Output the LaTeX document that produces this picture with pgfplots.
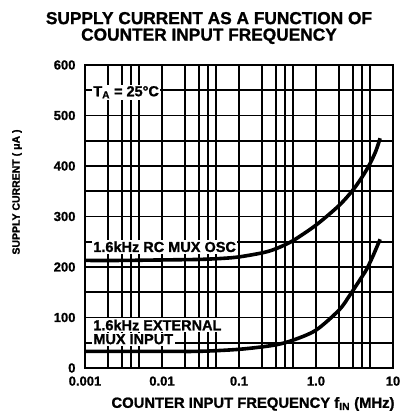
\documentclass[border=0pt]{standalone}
\usepackage{pgfplots}
\pgfplotsset{compat=1.18}
\usepackage{fontspec}
\setmainfont{Liberation Sans}[BoldFeatures={FakeBold=1.2}]
\begin{document}
\begin{tikzpicture}
\path[use as bounding box] (-85pt,-48pt) rectangle (316pt,368pt);
\begin{axis}[
  scale only axis, width=308pt, height=303pt,
  at={(0pt,0pt)}, anchor=south west,
  xmode=log, xmin=0.001, xmax=10, ymin=0, ymax=600,
  xtick={0.001,0.01,0.1,1,10}, xticklabels={0.001,0.01,0.1,1.0,10},
  minor xtick={0.002,0.003,0.004,0.005,0.02,0.03,0.04,0.05,0.2,0.3,0.4,0.5,2,3,4,5},
  ytick={0,100,...,600}, minor ytick={50,150,...,550},
  grid=both,
  major grid style={black, line width=1.8pt},
  minor grid style={black, line width=1.8pt},
  axis line style={line width=2.4pt},
  major tick length=0pt, minor tick length=0pt,
  /pgf/number format/assume math mode=true,
  ticklabel style={font=\bfseries\fontsize{13}{14}\selectfont},
  xticklabel style={anchor=north, yshift=-5pt},
  yticklabel style={anchor=east, xshift=-6pt},
  log ticks with fixed point,
  clip=true,
]
\addplot[black, line width=3.6pt, smooth, tension=0.5] coordinates {
 (0.001,213) (0.003,213) (0.01,214) (0.03,215) (0.06,217) (0.1,220) (0.2,228) (0.3,236) (0.5,252) (1,283) (2,322) (3,352) (4,379) (5,404) (6,430) (6.8,455)};
\addplot[black, line width=3.6pt, smooth, tension=0.5] coordinates {
 (0.001,33) (0.01,33) (0.03,33) (0.1,37) (0.28,45) (0.5,55) (1,75) (2,115) (2.77,145) (4,182) (4.6,197) (5.5,222) (6.8,255)};
\node[fill=white, inner sep=1.5pt, anchor=west, font=\bfseries\fontsize{14.5}{15}\selectfont] at (axis cs:0.00122,546) {T\textsubscript{A} = 25°C};
\node[fill=white, inner sep=1.5pt, anchor=west, font=\bfseries\fontsize{14.5}{15}\selectfont] at (axis cs:0.00122,240) {1.6kHz RC MUX OSC};
\node[fill=white, inner sep=1.5pt, anchor=west, font=\bfseries\fontsize{14.5}{15}\selectfont] at (axis cs:0.00122,85) {1.6kHz EXTERNAL};
\node[fill=white, inner sep=1.5pt, anchor=west, font=\bfseries\fontsize{14.5}{15}\selectfont] at (axis cs:0.00122,57) {MUX INPUT};
\end{axis}
\node[align=center, font=\bfseries\fontsize{17.3}{16.5}\selectfont] at (124pt,340pt) {SUPPLY CURRENT AS A FUNCTION OF\\COUNTER INPUT FREQUENCY};
\node[font=\bfseries\fontsize{14.8}{15}\selectfont] at (168pt,-36pt) {COUNTER INPUT FREQUENCY f\textsubscript{IN} (MHz)};
\node[rotate=90, font=\bfseries\fontsize{10.5}{11}\selectfont] at (-68pt,176pt) {SUPPLY CURRENT ( μA )};
\end{tikzpicture}
\end{document}
